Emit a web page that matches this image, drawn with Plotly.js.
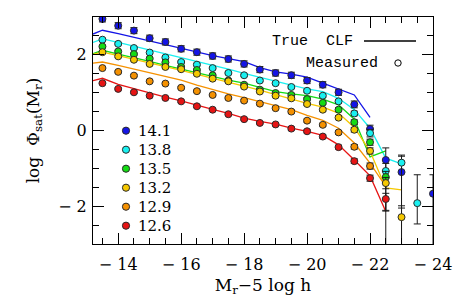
<!DOCTYPE html>
<html><head><meta charset="utf-8">
<script src="https://cdn.plot.ly/plotly-3.0.1.min.js"></script>
<style>html,body{margin:0;padding:0;background:#fff}#plot{width:457px;height:304px}</style>
</head><body><div id="plot"></div>
<script>
// Measured points (x grid shared)
const xs = [-13.5,-14,-14.5,-15,-15.5,-16,-16.5,-17,-17.5,-18,-18.5,-19,-19.5,-20,-20.5,-21,-21.5,-22,-22.5,-23,-23.5,-24];
const names = ["14.1","13.8","13.5","13.2","12.9","12.6"];
const colors = ["#1414e6","#19f0f0","#14dc14","#f5c800","#f59100","#e61414"];
const m141 = [2.95,2.77,2.64,2.44,2.34,2.16,2.07,1.97,1.89,1.76,1.61,1.52,1.46,1.32,1.21,1.01,0.69,0.04,-0.78,-1.10,null,-1.67];
const m138 = [2.40,2.29,2.18,2.06,1.93,1.81,1.74,1.65,1.52,1.46,1.32,1.25,1.15,1.05,0.92,0.77,0.45,-0.07,-1.07,-0.85,-1.92,null];
const m135 = [2.22,2.09,2.02,1.90,1.80,1.68,1.60,1.46,1.32,1.21,1.08,0.99,0.94,0.83,0.73,0.55,0.22,-0.31,-1.23,null,null,null];
const m132 = [2.07,1.96,1.87,1.76,1.68,1.62,1.50,1.37,1.30,1.16,1.03,0.92,0.85,0.70,0.55,0.34,0.02,-0.54,-1.39,-2.29,null,null];
const m129 = [1.65,1.55,1.45,1.30,1.24,1.13,1.04,0.94,0.86,0.79,0.71,0.59,0.50,0.26,0.15,-0.05,-0.43,-0.94,null,null,null,null];
const m126 = [1.25,1.10,1.01,0.92,0.86,0.77,0.64,0.55,0.43,0.30,0.20,0.16,0.05,-0.02,-0.16,-0.44,-0.81,-1.26,-1.81,null,null,null];
// error bars (upper / lower)
const e141u = [0.08,0.08,0.08,0.08,0.08,0.08,0.08,0.08,0.08,0.08,0.08,0.08,0.08,0.08,0.08,0.08,0.09,0.10,0.32,0.42,null,0.5];
const e141d = [0.08,0.08,0.08,0.08,0.08,0.08,0.08,0.08,0.08,0.08,0.08,0.08,0.08,0.08,0.08,0.08,0.09,0.10,2.6,2.2,null,1.5];
const e138u = [0.03,0.03,0.03,0.03,0.03,0.03,0.03,0.03,0.03,0.03,0.03,0.03,0.04,0.04,0.04,0.05,0.06,0.10,0.20,0.20,0.75,null];
const e138d = [0.03,0.03,0.03,0.03,0.03,0.03,0.03,0.03,0.03,0.03,0.03,0.03,0.04,0.04,0.04,0.05,0.06,0.10,0.20,1.20,0.55,null];
const e135u = [0.03,0.03,0.03,0.03,0.03,0.03,0.03,0.03,0.03,0.03,0.03,0.03,0.04,0.04,0.04,0.05,0.06,0.08,0.15,null,null,null];
const e135d = [0.03,0.03,0.03,0.03,0.03,0.03,0.03,0.03,0.03,0.03,0.03,0.03,0.04,0.04,0.04,0.05,0.06,0.08,0.90,null,null,null];
const e132u = [0.03,0.03,0.03,0.03,0.03,0.03,0.03,0.03,0.03,0.03,0.03,0.03,0.04,0.04,0.04,0.05,0.06,0.08,0.15,0.30,null,null];
const e132d = [0.03,0.03,0.03,0.03,0.03,0.03,0.03,0.03,0.03,0.03,0.03,0.03,0.04,0.04,0.04,0.05,0.06,0.08,0.15,1.00,null,null];
const e129u = [0.03,0.03,0.03,0.03,0.03,0.03,0.03,0.03,0.03,0.03,0.03,0.03,0.04,0.04,0.04,0.05,0.06,0.08,null,null,null,null];
const e129d = e129u;
const e126u = [0.03,0.03,0.03,0.03,0.03,0.03,0.03,0.03,0.03,0.03,0.03,0.03,0.04,0.04,0.04,0.05,0.06,0.08,0.15,null,null,null];
const e126d = [0.03,0.03,0.03,0.03,0.03,0.03,0.03,0.03,0.03,0.03,0.03,0.03,0.04,0.04,0.04,0.05,0.06,0.08,0.30,null,null,null];
// True CLF lines
const lx = [-13.2,-13.5,-14,-14.5,-15,-15.5,-16,-16.5,-17,-17.5,-18,-18.5,-19,-19.5,-20,-20.5,-21,-21.5,-22,-22.5,-23];
const t141 = [2.55,2.65,2.56,2.46,2.36,2.27,2.17,2.08,1.98,1.90,1.82,1.66,1.55,1.49,1.41,1.25,1.09,0.94,0.35];
const t138 = [2.33,2.42,2.33,2.23,2.13,2.03,1.93,1.83,1.74,1.62,1.51,1.40,1.29,1.20,1.10,1.03,0.85,0.55,0.06,-0.73,-0.88];
const t135 = [2.03,2.12,2.02,1.93,1.83,1.72,1.62,1.52,1.42,1.33,1.25,1.14,1.03,0.97,0.92,0.83,0.68,0.30,-0.70,-0.54];
const t132 = [2.01,2.07,1.98,1.89,1.79,1.69,1.59,1.49,1.39,1.29,1.19,1.07,0.95,0.83,0.72,0.62,0.46,0.08,-0.55,-1.52,-1.57];
const t129 = [1.78,1.81,1.72,1.62,1.52,1.43,1.33,1.20,1.08,0.97,0.87,0.76,0.66,0.55,0.40,0.27,0.06,-0.33,-0.86,-1.48];
const t126 = [1.32,1.38,1.22,1.10,0.99,0.88,0.78,0.66,0.56,0.45,0.33,0.24,0.17,0.06,-0.02,-0.13,-0.38,-0.78,-1.20,-2.14];
// ticks
const xTickVals = [-14,-16,-18,-20,-22,-24];
const xTickText = ["\u2212 14","\u2212 16","\u2212 18","\u2212 20","\u2212 22","\u2212 24"];
const yTickVals = [2,0,-2];
const yTickText = ["2","0","\u2212 2"];

const meas = [m141,m138,m135,m132,m129,m126];
const errU = [e141u,e138u,e135u,e132u,e129u,e126u];
const errD = [e141d,e138d,e135d,e132d,e129d,e126d];
const trues = [t141,t138,t135,t132,t129,t126];

const traces = [];
trues.forEach((t,i)=>{
  traces.push({x: lx.slice(0,t.length), y: t, mode:'lines', type:'scatter',
    line:{color:colors[i], width:1.3}, showlegend:false, hoverinfo:'skip'});
});
meas.forEach((m,i)=>{
  traces.push({x: xs, y: m, mode:'markers', type:'scatter', name: names[i], showlegend:false,
    marker:{color:colors[i], size:7, line:{color:'#2a2a2a', width:1}},
    error_y:{type:'data', symmetric:false, array:errU[i], arrayminus:errD[i],
      color:'#1a1a1a', thickness:1, width:3.5},
    cliponaxis:true});
});

const px2x = p => (p-93)/340, py2y = p => (244-p)/227;
const annotations = [
  {xref:'paper', yref:'paper', x:px2x(355), y:py2y(41), xanchor:'right', yanchor:'middle',
   text:'True  CLF', showarrow:false, font:{family:'Liberation Mono', size:15}},
  {xref:'paper', yref:'paper', x:px2x(380), y:py2y(63), xanchor:'right', yanchor:'middle',
   text:'Measured', showarrow:false, font:{family:'Liberation Mono', size:15}}
];
const shapes = [
  {type:'line', xref:'paper', yref:'paper', x0:px2x(364), x1:px2x(416), y0:py2y(41), y1:py2y(41),
   line:{color:'#000', width:1.3}},
  {type:'circle', xref:'paper', yref:'paper', xsizemode:'pixel', ysizemode:'pixel',
   xanchor:px2x(398), yanchor:py2y(63), x0:-3.2, x1:3.2, y0:-3.2, y1:3.2,
   line:{color:'#000', width:1}}
];
// mass legend (keys drawn as decorations)
names.forEach((n,i)=>{
  const yy = 130.7 + i*19;
  shapes.push({type:'circle', xref:'paper', yref:'paper', xsizemode:'pixel', ysizemode:'pixel',
    xanchor:px2x(126), yanchor:py2y(yy), x0:-3.6, x1:3.6, y0:-3.6, y1:3.6,
    fillcolor:colors[i], line:{color:'#2a2a2a', width:1}});
  annotations.push({xref:'paper', yref:'paper', x:px2x(136), y:py2y(yy), xanchor:'left', yanchor:'middle',
    text:n, showarrow:false, font:{family:'DejaVu Serif', size:15}});
});

const layout = {
  width:457, height:304,
  margin:{l:93, r:24, t:17, b:60},
  paper_bgcolor:'#fff', plot_bgcolor:'#fff',
  font:{family:'DejaVu Serif', size:16, color:'#000'},
  showlegend:false,
  xaxis:{range:[-13.2,-24], tickvals:xTickVals, ticktext:xTickText,
    showline:true, mirror:'ticks', linecolor:'#000', linewidth:1,
    ticks:'inside', ticklen:11, tickwidth:1, tickcolor:'#000',
    minor:{dtick:0.5, tick0:0, ticks:'inside', ticklen:6, tickcolor:'#000', showgrid:false},
    showgrid:false, zeroline:false, tickfont:{size:16}, ticklabelstandoff:6,
    title:{text:'M<sub>r</sub>\u22125 log h', font:{size:17}, standoff:5}},
  yaxis:{range:[-3,3], tickvals:yTickVals, ticktext:yTickText,
    showline:true, mirror:'ticks', linecolor:'#000', linewidth:1,
    ticks:'inside', ticklen:11, tickwidth:1, tickcolor:'#000',
    minor:{dtick:0.5, tick0:0, ticks:'inside', ticklen:6, tickcolor:'#000', showgrid:false},
    showgrid:false, zeroline:false, tickfont:{size:16}, ticklabelstandoff:2,
    title:{text:'log  \u03a6<sub>sat</sub>(M<sub>r</sub>)', font:{size:17}, standoff:14}},
  annotations: annotations,
  shapes: shapes
};
Plotly.newPlot('plot', traces, layout, {staticPlot:true, displayModeBar:false});
</script></body></html>
